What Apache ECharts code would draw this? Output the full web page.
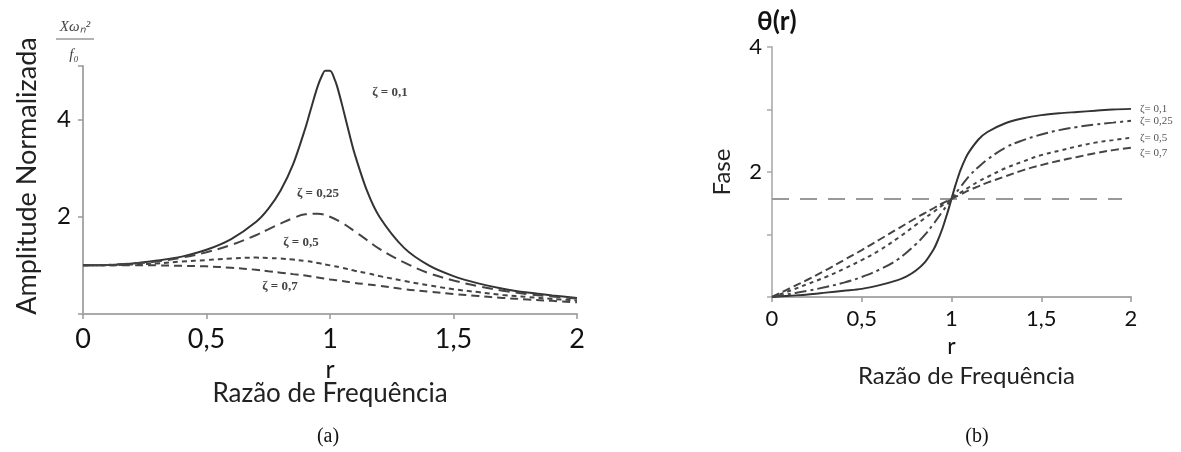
<!DOCTYPE html>
<html>
<head>
<meta charset="utf-8">
<script src="https://cdn.jsdelivr.net/npm/echarts@6/dist/echarts.min.js"></script>
<style>
  html, body { margin: 0; padding: 0; background: #fff; }
  #chart { width: 1181px; height: 452px; }
</style>
</head>
<body>
<div id="chart"></div>
<script>
// values
const rPeak = [0, 0.1, 0.2, 0.3, 0.4, 0.5, 0.6, 0.7, 0.75, 0.8, 0.85, 0.9, 0.92, 0.95, 0.97, 0.98, 1.0, 1.02, 1.03, 1.05, 1.08, 1.1, 1.15, 1.2, 1.3, 1.4, 1.5, 1.6, 1.7, 1.8, 1.9, 2.0]
const amp01 = [1.00, 1.01, 1.04, 1.10, 1.18, 1.32, 1.54, 1.89, 2.16, 2.54, 3.07, 3.82, 4.17, 4.68, 4.93, 5.00, 5.00, 4.81, 4.66, 4.28, 3.67, 3.29, 2.53, 2.00, 1.36, 1.00, 0.78, 0.63, 0.52, 0.44, 0.38, 0.33]

const rAmp = [0, 0.1, 0.2, 0.3, 0.4, 0.5, 0.6, 0.7, 0.75, 0.8, 0.85, 0.9, 0.95, 1.0, 1.05, 1.1, 1.15, 1.2, 1.3, 1.4, 1.5, 1.6, 1.7, 1.8, 1.9, 2.0]
const amp025 = [1.00, 1.01, 1.04, 1.08, 1.16, 1.27, 1.42, 1.62, 1.74, 1.86, 1.97, 2.05, 2.06, 2.00, 1.87, 1.70, 1.52, 1.34, 1.06, 0.84, 0.69, 0.57, 0.48, 0.41, 0.36, 0.32]
const amp05 = [1.00, 1.00, 1.02, 1.04, 1.08, 1.11, 1.14, 1.16, 1.15, 1.14, 1.12, 1.09, 1.05, 1.00, 0.95, 0.89, 0.84, 0.78, 0.68, 0.59, 0.51, 0.45, 0.39, 0.35, 0.31, 0.28]
const amp07 = [1.00, 1.00, 1.00, 1.00, 0.99, 0.98, 0.95, 0.91, 0.88, 0.85, 0.82, 0.79, 0.75, 0.71, 0.68, 0.64, 0.61, 0.58, 0.51, 0.46, 0.41, 0.37, 0.33, 0.30, 0.27, 0.24]

const rPhase01 = [0, 0.1, 0.2, 0.3, 0.4, 0.5, 0.6, 0.7, 0.75, 0.8, 0.85, 0.9, 0.92, 0.95, 0.97, 0.98, 1.0, 1.02, 1.03, 1.05, 1.08, 1.1, 1.15, 1.2, 1.3, 1.4, 1.5, 1.6, 1.7, 1.8, 1.9, 2.0]
const phase01 = [0, 0.02, 0.04, 0.07, 0.10, 0.13, 0.19, 0.27, 0.33, 0.42, 0.55, 0.76, 0.88, 1.10, 1.28, 1.37, 1.57, 1.77, 1.86, 2.03, 2.23, 2.33, 2.52, 2.64, 2.78, 2.86, 2.91, 2.94, 2.96, 2.98, 3.00, 3.01]

const rPhase = [0, 0.1, 0.2, 0.3, 0.4, 0.5, 0.6, 0.7, 0.8, 0.85, 0.9, 0.95, 1.0, 1.05, 1.1, 1.15, 1.2, 1.3, 1.4, 1.5, 1.6, 1.7, 1.8, 1.9, 2.0]
const phase025 = [0, 0.05, 0.10, 0.16, 0.23, 0.32, 0.44, 0.60, 0.84, 0.99, 1.17, 1.37, 1.57, 1.76, 1.94, 2.08, 2.20, 2.39, 2.51, 2.60, 2.67, 2.72, 2.76, 2.79, 2.82]
const phase05 = [0, 0.10, 0.21, 0.32, 0.45, 0.59, 0.75, 0.94, 1.15, 1.26, 1.36, 1.47, 1.57, 1.67, 1.76, 1.85, 1.92, 2.06, 2.17, 2.27, 2.34, 2.41, 2.47, 2.51, 2.55]
const phase07 = [0, 0.14, 0.28, 0.43, 0.59, 0.75, 0.92, 1.09, 1.26, 1.34, 1.42, 1.50, 1.57, 1.64, 1.71, 1.77, 1.83, 1.93, 2.03, 2.11, 2.18, 2.24, 2.30, 2.35, 2.39]

const halfPiR = [0, 1.95]
const halfPi = [1.57, 1.57]

const xTicks = ['0', '0,5', '1', '1,5', '2']

const zip = (xs, ys) => xs.map((x, i) => [x, ys[i]])

let myChart = echarts.init(document.getElementById('chart'))

const font = 'Lato'
const xLabel = v => xTicks[Math.round(v * 2)]

const leftLabel = (text, x, y) => ({
    type: 'text',
    x: x,
    y: y,
    style: {
        text: text,
        font: 'bold 13px "Liberation Serif"',
        fill: '#444',
        textAlign: 'center',
        textVerticalAlign: 'middle'
    }
})

const endLabel = {
    show: true,
    formatter: '{a}',
    fontFamily: 'Liberation Serif',
    fontSize: 11,
    color: '#555',
    distance: 9
}

const option = {
    animation: false,
    title: {
        text: 'θ(r)',
        left: 752,
        top: 4,
        textStyle: { fontFamily: font, fontWeight: 'bold', fontSize: 26, color: '#111' }
    },
    grid: [
        { left: 83, right: 604, top: 66, bottom: 138, outerBoundsMode: 'none' },
        { left: 772, right: 50, top: 47, bottom: 155, outerBoundsMode: 'none' }
    ],
    xAxis: [
        {
            gridIndex: 0,
            type: 'value',
            min: 0,
            max: 2,
            interval: 0.5,
            splitLine: { show: false },
            axisLine: { lineStyle: { color: '#aaa', width: 2 } },
            axisTick: { lineStyle: { color: '#999', width: 1.5 }, length: 5 },
            axisLabel: { formatter: xLabel, fontFamily: font, fontSize: 27, color: '#111', margin: 12 },
            name: '{r|r}\n{t|Razão de Frequência}',
            nameLocation: 'middle',
            nameGap: 41,
            nameTextStyle: {
                rich: {
                    r: { fontFamily: font, fontSize: 25, color: '#111', lineHeight: 20 },
                    t: { fontFamily: font, fontSize: 26, color: '#222', lineHeight: 26 }
                }
            }
        },
        {
            gridIndex: 1,
            type: 'value',
            min: 0,
            max: 2,
            interval: 0.5,
            splitLine: { show: false },
            axisLine: { lineStyle: { color: '#aaa', width: 2 } },
            axisTick: { lineStyle: { color: '#999', width: 1.5 }, length: 5 },
            axisLabel: { formatter: xLabel, fontFamily: font, fontSize: 22, color: '#111', margin: 11 },
            name: '{r|r}\n{t|Razão de Frequência}',
            nameLocation: 'middle',
            nameGap: 36,
            nameTextStyle: {
                rich: {
                    r: { fontFamily: font, fontSize: 23, color: '#111', lineHeight: 24 },
                    t: { fontFamily: font, fontSize: 24, color: '#222', lineHeight: 36, padding: [0, 0, 0, 30] }
                }
            }
        }
    ],
    yAxis: [
        {
            gridIndex: 0,
            type: 'value',
            min: 0,
            max: 5.1,
            interval: 2,
            splitLine: { show: false },
            axisLine: { show: true, lineStyle: { color: '#aaa', width: 2 } },
            axisTick: { show: true, lineStyle: { color: '#999', width: 1.5 }, length: 5 },
            axisLabel: {
                formatter: v => (v === 2 || v === 4) ? String(v) : '',
                fontFamily: font, fontSize: 24, color: '#111', margin: 12
            },
            name: 'Amplitude Normalizada',
            nameLocation: 'middle',
            nameGap: 42,
            nameTextStyle: { fontFamily: font, fontSize: 27, color: '#222', padding: [0, 0, 0, 28] }
        },
        {
            gridIndex: 1,
            type: 'value',
            min: 0,
            max: 4,
            interval: 1,
            splitLine: { show: false },
            axisLine: { show: true, lineStyle: { color: '#bbb', width: 2 } },
            axisTick: { show: true, lineStyle: { color: '#aaa', width: 1.5 }, length: 5 },
            axisLabel: {
                formatter: v => (v === 2 || v === 4) ? String(v) : '',
                fontFamily: font, fontSize: 22, color: '#111', margin: 10
            },
            name: 'Fase',
            nameLocation: 'middle',
            nameGap: 38,
            nameTextStyle: { fontFamily: font, fontSize: 24, color: '#222' }
        }
    ],
    graphic: [
        {
            type: 'text', x: 75, y: 27,
            style: { text: 'Xωₙ²', font: 'italic 15px "Liberation Serif"', fill: '#444', textAlign: 'center', textVerticalAlign: 'middle' }
        },
        {
            type: 'line', shape: { x1: 56, y1: 39, x2: 94, y2: 39 },
            style: { stroke: '#666', lineWidth: 1 }
        },
        {
            type: 'text', x: 74, y: 55,
            style: { text: 'f₀', font: 'italic 15px "Liberation Serif"', fill: '#444', textAlign: 'center', textVerticalAlign: 'middle' }
        },
        leftLabel('ζ = 0,1', 390, 93),
        leftLabel('ζ = 0,25', 318, 194),
        leftLabel('ζ = 0,5', 301, 243),
        leftLabel('ζ = 0,7', 280, 287),
        {
            type: 'text', x: 328, y: 437,
            style: { text: '(a)', font: '20px "Liberation Serif"', fill: '#111', textAlign: 'center', textVerticalAlign: 'middle' }
        },
        {
            type: 'text', x: 977, y: 437,
            style: { text: '(b)', font: '20px "Liberation Serif"', fill: '#111', textAlign: 'center', textVerticalAlign: 'middle' }
        }
    ],
    series: [
        {
            name: 'ζ = 0,1', type: 'line', xAxisIndex: 0, yAxisIndex: 0,
            data: zip(rPeak, amp01), showSymbol: false, smooth: 0.3,
            lineStyle: { color: '#333', width: 2 }
        },
        {
            name: 'ζ = 0,25', type: 'line', xAxisIndex: 0, yAxisIndex: 0,
            data: zip(rAmp, amp025), showSymbol: false, smooth: 0.4,
            lineStyle: { color: '#444', width: 2, type: [11, 6] }
        },
        {
            name: 'ζ = 0,5', type: 'line', xAxisIndex: 0, yAxisIndex: 0,
            data: zip(rAmp, amp05), showSymbol: false, smooth: 0.4,
            lineStyle: { color: '#444', width: 2, type: [5, 4] }
        },
        {
            name: 'ζ = 0,7', type: 'line', xAxisIndex: 0, yAxisIndex: 0,
            data: zip(rAmp, amp07), showSymbol: false, smooth: 0.4,
            lineStyle: { color: '#444', width: 2, type: [8, 5] }
        },
        {
            name: 'π/2', type: 'line', xAxisIndex: 1, yAxisIndex: 1,
            data: zip(halfPiR, halfPi), showSymbol: false,
            lineStyle: { color: '#999', width: 2, type: [17, 11] }
        },
        {
            name: 'ζ= 0,1', type: 'line', xAxisIndex: 1, yAxisIndex: 1,
            data: zip(rPhase01, phase01), showSymbol: false, smooth: 0.3,
            lineStyle: { color: '#333', width: 2 },
            endLabel: endLabel
        },
        {
            name: 'ζ= 0,25', type: 'line', xAxisIndex: 1, yAxisIndex: 1,
            data: zip(rPhase, phase025), showSymbol: false, smooth: 0.4,
            lineStyle: { color: '#444', width: 2, type: [12, 4, 3, 4] },
            endLabel: endLabel
        },
        {
            name: 'ζ= 0,5', type: 'line', xAxisIndex: 1, yAxisIndex: 1,
            data: zip(rPhase, phase05), showSymbol: false, smooth: 0.4,
            lineStyle: { color: '#444', width: 2, type: [4, 4] },
            endLabel: endLabel
        },
        {
            name: 'ζ= 0,7', type: 'line', xAxisIndex: 1, yAxisIndex: 1,
            data: zip(rPhase, phase07), showSymbol: false, smooth: 0.4,
            lineStyle: { color: '#444', width: 2, type: [8, 4] },
            endLabel: Object.assign({}, endLabel, { offset: [0, 5] })
        }
    ]
}

myChart.setOption(option)
</script>
</body>
</html>
